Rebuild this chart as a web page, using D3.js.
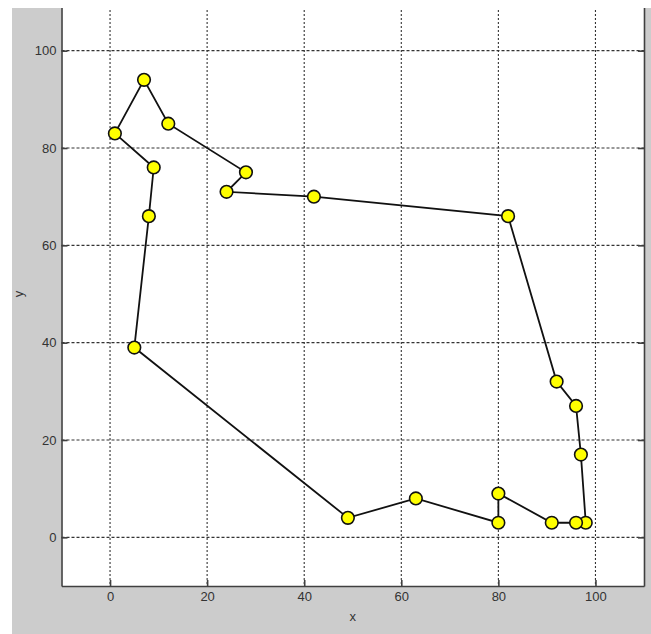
<!DOCTYPE html>
<html lang="en">
<head>
  <meta charset="utf-8">
  <title>Tour plot</title>
  <script src="https://d3js.org/d3.v7.min.js"></script>
  <style>
    body { margin: 0; background: white; }
    .tick text { font-family: Arial, "Liberation Sans", sans-serif; font-size: 13px; fill: #333; }
    .grid line { stroke: #333; stroke-width: 1.1; }
    .label { font-family: Arial, "Liberation Sans", sans-serif; font-size: 13px; fill: #333; text-anchor: middle; }
  </style>
</head>
<body>
  <div id="chart"></div>
  <script>
    // tour order, closed loop back to first point
    var xs = [1, 7, 12, 28, 24, 42, 82, 92, 96, 97, 98, 96, 91, 80, 80, 63, 49, 5, 8, 9];
    var ys = [83, 94, 85, 75, 71, 70, 66, 32, 27, 17, 3, 3, 3, 9, 3, 8, 4, 39, 66, 76];
    var tickValues = [0, 20, 40, 60, 80, 100];

    var width = 651, height = 634;
    var axLeft = 61.5, axRight = 644, axTop = 2, axBottom = 586;

    var pts = xs.map(function(d, i) { return { x: d, y: ys[i] }; });

    var svg = d3.select("#chart")
      .append("svg")
        .attr("width", width)
        .attr("height", height);

    // figure background
    svg.append("rect")
      .attr("x", 12).attr("y", 0)
      .attr("width", width - 12).attr("height", height)
      .attr("fill", "#cccccc");

    var x = d3.scaleLinear().domain([-10, 110]).range([axLeft, axRight]);
    var y = d3.scaleLinear().domain([-10, 110]).range([axBottom, axTop]);

    svg.append("rect")
      .attr("x", axLeft).attr("y", axTop)
      .attr("width", axRight - axLeft).attr("height", axBottom - axTop)
      .attr("fill", "white");

    // grid
    var grid = svg.append("g").attr("class", "grid");
    grid.selectAll("line.v")
      .data(tickValues)
      .enter()
      .append("line")
        .attr("class", "v")
        .attr("x1", function(d) { return x(d); })
        .attr("x2", function(d) { return x(d); })
        .attr("y1", axTop)
        .attr("y2", axBottom)
        .attr("stroke-dasharray", "2,2");
    grid.selectAll("line.h")
      .data(tickValues)
      .enter()
      .append("line")
        .attr("class", "h")
        .attr("y1", function(d) { return y(d); })
        .attr("y2", function(d) { return y(d); })
        .attr("x1", axLeft)
        .attr("x2", axRight)
        .attr("stroke-dasharray", "3,2");

    // axes
    function styleAxis(g) {
      g.select(".domain").attr("stroke", "#404040").attr("stroke-width", 1.6);
      g.selectAll(".tick line").attr("stroke", "#404040").attr("stroke-width", 1.6);
    }

    svg.append("g")
      .attr("transform", "translate(0," + axBottom + ")")
      .call(d3.axisBottom(x).tickValues(tickValues).tickSize(-6).tickSizeOuter(0).tickPadding(6))
      .call(styleAxis);

    svg.append("g")
      .attr("transform", "translate(" + axLeft + ",0)")
      .call(d3.axisLeft(y).tickValues(tickValues).tickSize(-6).tickSizeOuter(0).tickPadding(5))
      .call(styleAxis);

    svg.append("g")
      .attr("transform", "translate(" + axRight + ",0)")
      .call(d3.axisRight(y).tickValues(tickValues).tickSize(-6).tickSizeOuter(0).tickFormat(""))
      .call(styleAxis);

    // tour
    var line = d3.line()
      .x(function(d) { return x(d.x); })
      .y(function(d) { return y(d.y); })
      .curve(d3.curveLinearClosed);

    svg.append("path")
      .datum(pts)
      .attr("d", line)
      .attr("fill", "none")
      .attr("stroke", "#111")
      .attr("stroke-width", 1.8);

    svg.selectAll("circle")
      .data(pts)
      .enter()
      .append("circle")
        .attr("cx", function(d) { return x(d.x); })
        .attr("cy", function(d) { return y(d.y); })
        .attr("r", 6.3)
        .attr("fill", "#ffff00")
        .attr("stroke", "#111")
        .attr("stroke-width", 1.6);

    // labels
    svg.append("text")
      .attr("class", "label")
      .attr("x", x(50))
      .attr("y", 621)
      .text("x");

    svg.append("text")
      .attr("class", "label")
      .attr("transform", "translate(23," + y(50) + ") rotate(-90)")
      .text("y");

    // top strip of the screenshot
    svg.append("rect")
      .attr("x", 0).attr("y", 0)
      .attr("width", width).attr("height", 8)
      .attr("fill", "white");
  </script>
</body>
</html>
